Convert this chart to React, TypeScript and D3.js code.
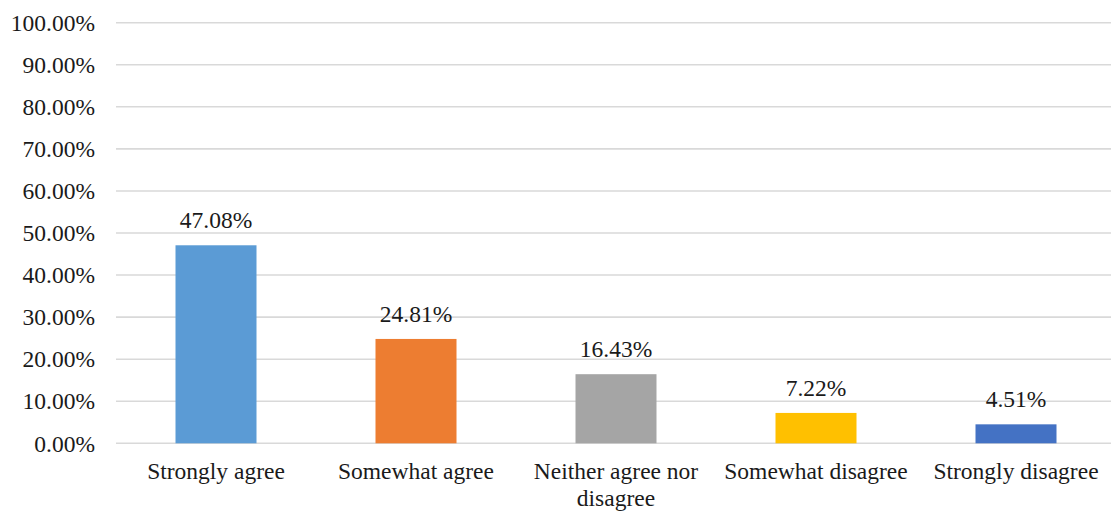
import React from "react";
import * as d3 from "d3";

const categories = ["Strongly agree", "Somewhat agree", "Neither agree nor disagree", "Somewhat disagree", "Strongly disagree"];
const values = [47.08, 24.81, 16.43, 7.22, 4.51];
const colors = ["#5B9BD5", "#ED7D31", "#A5A5A5", "#FFC000", "#4472C4"];
const yTicks = [0, 10, 20, 30, 40, 50, 60, 70, 80, 90, 100];

const W = 1111;
const H = 512;
const margin = { left: 116, right: -5, top: 22.7, bottom: 68.7 };
const FONT = "'Liberation Serif', 'Times New Roman', serif";
const FS = 23.5;

function wrapLabel(label: string): string[] {
  return label === "Neither agree nor disagree" ? ["Neither agree nor", "disagree"] : [label];
}

export default function App() {
  const x = d3
    .scaleBand<string>()
    .domain(categories)
    .range([margin.left, W - margin.right])
    .paddingInner(0.595)
    .paddingOuter(0.2975);
  const y = d3.scaleLinear().domain([0, 100]).range([H - margin.bottom, margin.top]);

  return (
    <svg
      width={W}
      height={H}
      style={{ position: "absolute", left: 0, top: 0, background: "#fff" }}
      fontFamily={FONT}
    >
      {yTicks.map((t) => (
        <g key={t}>
          <line x1={margin.left} x2={W} y1={y(t)} y2={y(t)} stroke="#D9D9D9" strokeWidth={1.6} />
          <text x={95} y={y(t)} dy="0.35em" textAnchor="end" fontSize={FS} fill="#1a1a1a">
            {d3.format(".2f")(t) + "%"}
          </text>
        </g>
      ))}
      {categories.map((c, i) => {
        const bx = x(c) as number;
        const cx = bx + x.bandwidth() / 2;
        return (
          <g key={c}>
            <rect x={bx} y={y(values[i])} width={x.bandwidth()} height={y(0) - y(values[i])} fill={colors[i]} />
            <text x={cx} y={y(values[i]) - 17} textAnchor="middle" fontSize={FS} fill="#1a1a1a">
              {values[i].toFixed(2) + "%"}
            </text>
            {wrapLabel(c).map((line, j) => (
              <text key={j} x={cx} y={479 + j * 27} textAnchor="middle" fontSize={FS} fill="#1a1a1a">
                {line}
              </text>
            ))}
          </g>
        );
      })}
    </svg>
  );
}
